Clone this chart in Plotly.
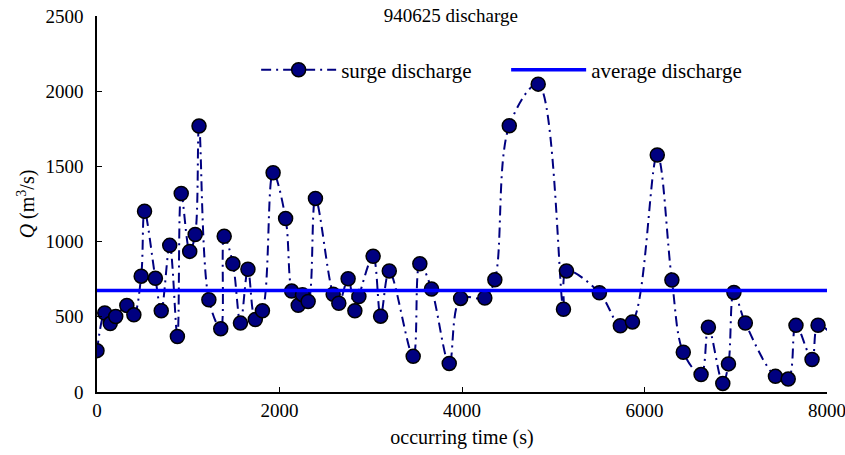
import plotly.graph_objects as go

# surge discharge samples (time in s, Q in m3/s)
time_s = [0, 85, 145, 205, 327, 404, 484, 521, 640, 704,
          797, 881, 923, 1016, 1076, 1118, 1226, 1356, 1394, 1489,
          1572, 1654, 1735, 1813, 1930, 2067, 2133, 2205, 2252, 2314,
          2394, 2588, 2650, 2752, 2826, 2870, 3026, 3108, 3203, 3465,
          3538, 3666, 3860, 3985, 4250, 4360, 4518, 4835, 5112, 5145,
          5506, 5735, 5868, 6140, 6300, 6425, 6620, 6700, 6858, 6920,
          6980, 7105, 7435, 7575, 7660, 7836, 7902, 8100]
surge_q = [275, 525, 455, 502, 575, 513, 770, 1202, 756, 540,
           975, 369, 1320, 935, 1047, 1768, 613, 420, 1035, 853,
           458, 816, 482, 540, 1458, 1153, 671, 576, 647, 602,
           1287, 650, 590, 753, 540, 635, 902, 504, 805, 237,
           853, 685, 190, 622, 625, 747, 1770, 2047, 550, 805,
           660, 440, 466, 1576, 744, 264, 116, 431, 57, 187,
           662, 459, 104, 86, 443, 216, 444, 355]

avg_time = [0, 8000]
avg_q = [675, 675]

x_ticks = [0, 2000, 4000, 6000, 8000]
y_ticks = [0, 500, 1000, 1500, 2000, 2500]

FONT = "Liberation Serif"

fig = go.Figure()
fig.add_trace(go.Scatter(
    x=time_s, y=surge_q, name="surge discharge",
    mode="lines+markers",
    line=dict(color="#000080", width=2, dash="10px,5px,2px,5px", shape="spline", smoothing=1.0),
    marker=dict(size=14, color="#000080", line=dict(color="black", width=1.5)),
))
fig.add_trace(go.Scatter(
    x=avg_time, y=avg_q, name="average discharge",
    mode="lines",
    line=dict(color="#0000FF", width=3.5),
))

fig.update_layout(
    width=845, height=455,
    margin=dict(l=97, r=18, t=16, b=63, autoexpand=False),
    paper_bgcolor="white", plot_bgcolor="white",
    font=dict(family=FONT, size=19, color="black"),
    title=dict(text="940625 discharge", x=0.4846, xref="paper", xanchor="center",
               y=1 - 15 / 455, yref="container", yanchor="middle",
               font=dict(size=19, family=FONT, color="black")),
    legend=dict(orientation="h", x=0.218, xanchor="left", y=0.856, yanchor="middle",
                font=dict(size=21, family=FONT), bgcolor="rgba(0,0,0,0)",
                itemwidth=75, entrywidth=160, entrywidthmode="pixels"),
    showlegend=True,
)
fig.update_xaxes(
    range=[0, 8000], tickvals=x_ticks, ticktext=[str(v) for v in x_ticks],
    showline=True, linecolor="black", linewidth=1.5, mirror=False,
    ticks="inside", ticklen=5, tickcolor="black", showgrid=False, zeroline=False,
    title=dict(text="occurring time (s)", font=dict(size=20, family=FONT), standoff=10),
    tickfont=dict(size=19, family=FONT), ticklabeloverflow="allow", automargin=False,
)
fig.update_yaxes(
    range=[0, 2500], tickvals=y_ticks, ticktext=[str(v) for v in y_ticks],
    showline=True, linecolor="black", linewidth=1.5, mirror=False,
    ticks="inside", ticklen=5, tickcolor="black", showgrid=False, zeroline=False,
    title=dict(text="<i>Q</i> (m<sup>3</sup>/s)", font=dict(size=20, family=FONT), standoff=5),
    tickfont=dict(size=19, family=FONT), ticklabelstandoff=8, ticklabeloverflow="allow",
    automargin=False,
)

fig.write_html("out.html")
